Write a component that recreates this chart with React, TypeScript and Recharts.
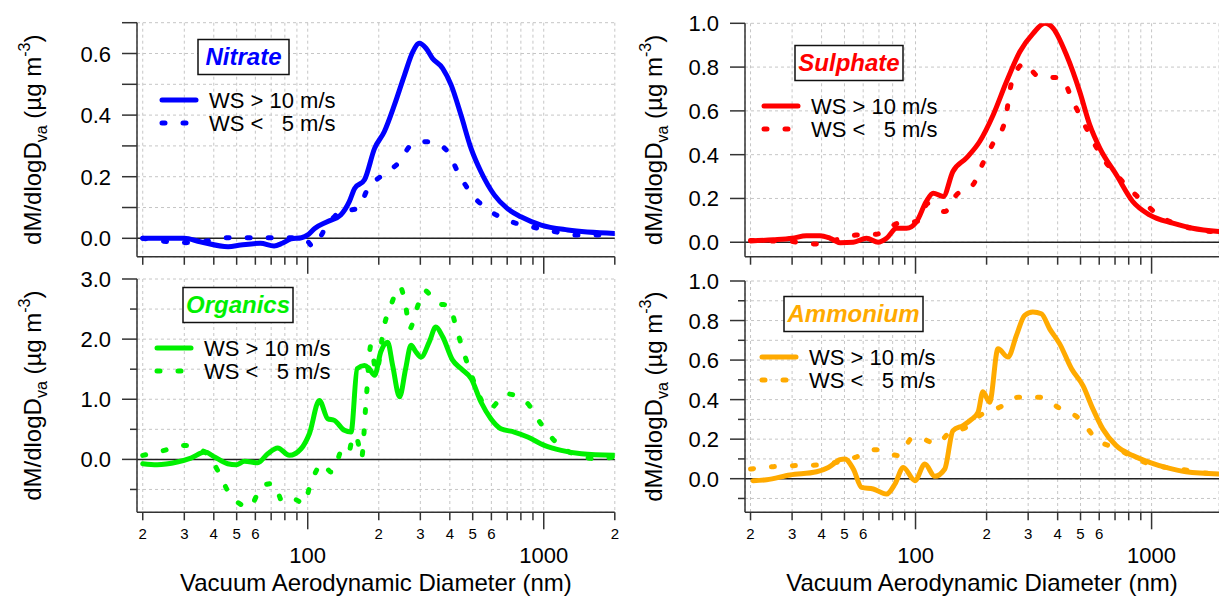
import React from 'react';
import {
  LineChart,
  Line,
  XAxis,
  YAxis,
  CartesianGrid,
  ReferenceLine,
  Legend,
  Label,
} from 'recharts';

// size distributions: vacuum aerodynamic diameter (nm) vs dM/dlogDva (ug m-3)

const nitrateHighD = [20, 30, 35, 46, 52, 63, 72, 78, 85, 94, 100, 107, 121, 138, 150, 158, 174, 192, 211, 233, 257, 279, 297, 317, 338, 373, 405, 446, 492, 542, 617, 700, 800, 975, 1264, 1992];
const nitrateHighV = [0, 0, -0.011, -0.027, -0.022, -0.016, -0.025, -0.016, -0.002, 0.002, 0.011, 0.032, 0.054, 0.076, 0.119, 0.162, 0.19, 0.292, 0.346, 0.433, 0.53, 0.606, 0.633, 0.617, 0.584, 0.552, 0.498, 0.4, 0.292, 0.216, 0.141, 0.097, 0.07, 0.043, 0.027, 0.016];
const nitrateLowD = [20, 25.5, 30.5, 37, 46.5, 57.5, 70, 85, 94, 100, 105, 120, 138, 163, 180, 208, 245, 274, 302, 338, 392, 432, 492, 597, 728, 880, 1110, 1350, 1640, 1992];
const nitrateLowV = [0, -0.011, -0.014, -0.009, 0.002, 0.002, 0.002, 0.002, 0.002, -0.01, -0.027, 0.038, 0.087, 0.097, 0.162, 0.206, 0.249, 0.303, 0.314, 0.312, 0.281, 0.216, 0.146, 0.087, 0.054, 0.038, 0.022, 0.011, 0.011, 0.009];

const sulphateHighD = [20, 25, 30, 34.5, 39.4, 43.5, 48, 54.5, 62, 69.5, 75.4, 83.1, 91.6, 101, 111, 118.8, 131, 144, 164, 187, 213, 243, 277, 315, 353, 383, 436, 496, 547, 604, 710, 832, 980, 1230, 1491, 1929];
const sulphateHighV = [0.006, 0.011, 0.018, 0.03, 0.03, 0.018, -0.002, 0, 0.018, 0, 0.018, 0.064, 0.064, 0.094, 0.186, 0.224, 0.209, 0.323, 0.384, 0.46, 0.58, 0.734, 0.871, 0.954, 1.0, 0.977, 0.855, 0.688, 0.536, 0.429, 0.307, 0.186, 0.125, 0.087, 0.064, 0.049];
const sulphateLowD = [20, 25, 30, 37.5, 46, 56, 68.4, 84.5, 102.6, 113, 133, 149, 175, 193, 213, 239, 256, 290, 325, 353, 414, 465, 512, 622, 754, 918, 1118, 1314, 1596, 1929];
const sulphateLowV = [0.008, 0.006, 0.003, -0.008, 0.011, 0.033, 0.037, 0.087, 0.097, 0.178, 0.14, 0.216, 0.262, 0.361, 0.452, 0.551, 0.734, 0.817, 0.764, 0.756, 0.749, 0.642, 0.551, 0.384, 0.277, 0.186, 0.11, 0.079, 0.056, 0.046];

const organicsHighD = [20, 23, 28, 32, 36.7, 40.3, 45.8, 49.7, 54, 61.4, 67.7, 74.6, 83.6, 93.7, 101.6, 112, 121.5, 129.7, 143, 152.6, 162, 174, 182, 192, 204, 218, 229, 245, 260, 274, 287, 302, 327, 349, 373, 411, 446, 493, 542, 597, 658, 750, 855, 1006, 1186, 1444, 1992];
const organicsHighV = [-0.072, -0.089, -0.044, 0.022, 0.122, 0.039, -0.072, -0.089, -0.033, -0.055, 0.094, 0.189, 0.067, 0.177, 0.427, 0.98, 0.677, 0.649, 0.483, 0.455, 1.51, 1.56, 1.51, 1.4, 1.79, 1.95, 1.56, 1.04, 1.51, 1.9, 1.79, 1.7, 1.95, 2.2, 2.04, 1.65, 1.51, 1.34, 0.954, 0.677, 0.51, 0.455, 0.372, 0.233, 0.15, 0.094, 0.067];
const organicsLowD = [20, 24.7, 30, 36.7, 42.3, 46.6, 56.6, 64.5, 71.8, 78.4, 88.6, 96.2, 103, 115.8, 125.5, 130.6, 138.4, 147.7, 156.6, 163, 169, 176.6, 185.3, 195, 211, 225, 246, 261, 270, 290, 312, 355, 398, 425, 453, 483, 588, 693, 842, 975, 1143, 1390, 1689, 1992];
const organicsLowV = [0.067, 0.15, 0.233, 0.12, -0.24, -0.57, -0.79, -0.43, -0.4, -0.71, -0.67, -0.74, -0.4, -0.07, -0.21, -0.155, 0.122, 0.067, 0.4, 0.3, 0.02, 0.954, 1.9, 1.45, 2.23, 2.56, 2.87, 2.51, 2.17, 2.51, 2.81, 2.59, 2.56, 2.2, 1.84, 1.51, 0.84, 1.09, 0.954, 0.59, 0.26, 0.067, 0.011, 0.039];

const ammoniumHighD = [20.5, 23.4, 29.4, 38.1, 42.7, 47.9, 50.2, 54.5, 59.1, 66.2, 75.4, 81.8, 88.7, 99.4, 109.5, 120.7, 133, 144, 159, 172.6, 184, 193, 206, 223.6, 246.5, 267.6, 290, 314, 341, 370, 408, 458, 512, 564, 621, 708, 832, 980, 1150, 1398, 1929];
const ammoniumHighV = [-0.01, -0.005, 0.019, 0.035, 0.057, 0.096, 0.1, 0.049, -0.044, -0.052, -0.078, -0.027, 0.057, -0.01, 0.074, 0.012, 0.049, 0.243, 0.269, 0.3, 0.336, 0.44, 0.387, 0.657, 0.615, 0.725, 0.826, 0.843, 0.834, 0.758, 0.682, 0.556, 0.471, 0.353, 0.252, 0.167, 0.117, 0.083, 0.057, 0.035, 0.024];
const ammoniumLowD = [20, 25, 30.4, 38.1, 45, 55.5, 68.4, 84.5, 97.8, 107.7, 122.7, 139.7, 164, 187, 227, 272, 336, 408, 496, 583, 721, 862, 1047, 1313, 1596, 1929];
const ammoniumLowV = [0.049, 0.061, 0.066, 0.069, 0.08, 0.108, 0.147, 0.117, 0.209, 0.201, 0.176, 0.235, 0.26, 0.319, 0.361, 0.412, 0.412, 0.356, 0.302, 0.201, 0.15, 0.1, 0.066, 0.049, 0.032, 0.024];

const xTicksLeft = [20, 30, 40, 50, 60, 70, 80, 90, 100, 200, 300, 400, 500, 600, 700, 800, 900, 1000, 2000];
const xTicksRight = [20, 30, 40, 50, 60, 70, 80, 90, 100, 200, 300, 400, 500, 600, 700, 800, 900, 1000];

const nitrateYTicks = [0, 0.1, 0.2, 0.3, 0.4, 0.5, 0.6, 0.7];
const nitrateYLabels = [0, 0.2, 0.4, 0.6];
const sulphateYTicks = [0, 0.2, 0.4, 0.6, 0.8, 1.0];
const sulphateYLabels = [0, 0.2, 0.4, 0.6, 0.8, 1.0];
const organicsYTicks = [-0.5, 0, 0.5, 1, 1.5, 2, 2.5, 3];
const organicsYLabels = [0, 1, 2, 3];
const ammoniumYTicks = [-0.1, 0, 0.1, 0.2, 0.3, 0.4, 0.5, 0.6, 0.7, 0.8, 0.9, 1.0];
const ammoniumYLabels = [0, 0.2, 0.4, 0.6, 0.8, 1.0];

const seriesNames = ['WS > 10 m/s', 'WS <   5 m/s'];
const xTitle = 'Vacuum Aerodynamic Diameter (nm)';

const FONT = '"Liberation Sans", Arial, Helvetica, sans-serif';
const AXIS = '#333';
const DASH = '3 18';

const toPoints = (d: number[], v: number[]) => d.map((x, i) => ({ d: x, v: v[i] }));

type Pt = { d: number; v: number };
type PanelCfg = {
  name: string;
  color: string;
  high: Pt[];
  low: Pt[];
  yDomain: [number, number];
  yTicks: number[];
  yLabels: number[];
  minorLen: number;
  xDomain: [number, number];
  xTicks: number[];
  left: number;
  top: number;
  width: number;
  height: number;
  axisX: number;
  plotTop: number;
  plotBottom: number;
  plotRight: number;
  titleOffset: number;
  legendX: number;
  legendY: number;
  boxDx: number;
  boxW: number;
  bottomRow: boolean;
};

const panels: PanelCfg[] = [
  {
    name: 'Nitrate', color: '#0000ff',
    high: toPoints(nitrateHighD, nitrateHighV), low: toPoints(nitrateLowD, nitrateLowV),
    yDomain: [-0.06, 0.7], yTicks: nitrateYTicks, yLabels: nitrateYLabels, minorLen: 15,
    xDomain: [18.91, 2000], xTicks: xTicksLeft,
    left: 0, top: 0, width: 620, height: 280,
    axisX: 137, plotTop: 22.7, plotBottom: 256.8, plotRight: 614.8, titleOffset: 96,
    legendX: 160, legendY: 39, boxDx: 38, boxW: 91, bottomRow: false,
  },
  {
    name: 'Sulphate', color: '#ff0000',
    high: toPoints(sulphateHighD, sulphateHighV), low: toPoints(sulphateLowD, sulphateLowV),
    yDomain: [-0.066, 1.0], yTicks: sulphateYTicks, yLabels: sulphateYLabels, minorLen: 15,
    xDomain: [18.95, 1930], xTicks: xTicksRight,
    left: 610, top: 0, width: 609, height: 280,
    axisX: 745, plotTop: 23.3, plotBottom: 256.7, plotRight: 1219, titleOffset: 83,
    legendX: 762, legendY: 45, boxDx: 33, boxW: 108, bottomRow: false,
  },
  {
    name: 'Organics', color: '#00f000',
    high: toPoints(organicsHighD, organicsHighV), low: toPoints(organicsLowD, organicsLowV),
    yDomain: [-0.88, 3.0], yTicks: organicsYTicks, yLabels: organicsYLabels, minorLen: 7,
    xDomain: [18.91, 2000], xTicks: xTicksLeft,
    left: 0, top: 265, width: 620, height: 332,
    axisX: 137, plotTop: 279, plotBottom: 512.3, plotRight: 614.8, titleOffset: 96,
    legendX: 155, legendY: 287, boxDx: 28, boxW: 110, bottomRow: true,
  },
  {
    name: 'Ammonium', color: '#ffaa00',
    high: toPoints(ammoniumHighD, ammoniumHighV), low: toPoints(ammoniumLowD, ammoniumLowV),
    yDomain: [-0.17, 1.0], yTicks: ammoniumYTicks, yLabels: ammoniumYLabels, minorLen: 7,
    xDomain: [18.95, 1930], xTicks: xTicksRight,
    left: 610, top: 265, width: 609, height: 332,
    axisX: 745, plotTop: 281, plotBottom: 512.3, plotRight: 1219, titleOffset: 83,
    legendX: 760, legendY: 296, boxDx: 24, boxW: 139, bottomRow: true,
  },
];

const XTick = (props: any) => {
  const { x, y, payload, labels } = props;
  const v = payload.value as number;
  const exp = Math.floor(Math.log10(v) + 1e-9);
  const m = Math.round(v / Math.pow(10, exp));
  const major = m === 1;
  return (
    <g>
      <line x1={x} y1={y} x2={x} y2={y + (major ? 17 : 8)} stroke={AXIS} strokeWidth={1.5} />
      {labels && major && (
        <text x={x} y={y + 51} textAnchor="middle" fontSize={22} fontFamily={FONT} fill="#000">{v}</text>
      )}
      {labels && m >= 2 && m <= 6 && (
        <text x={x} y={y + 27} textAnchor="middle" fontSize={15} fontFamily={FONT} fill="#000">{m}</text>
      )}
    </g>
  );
};

const YTick = (props: any) => {
  const { x, y, payload, majors, minorLen } = props;
  const v = payload.value as number;
  const major = (majors as number[]).some((m) => Math.abs(m - v) < 1e-6);
  return (
    <g>
      <line x1={x - (major ? 15 : minorLen)} y1={y} x2={x} y2={y} stroke={AXIS} strokeWidth={1.5} />
      {major && (
        <text x={x - 26} y={y + 8} textAnchor="end" fontSize={22} fontFamily={FONT} fill="#000">{v.toFixed(1)}</text>
      )}
    </g>
  );
};

const LegendBox = ({ payload, p }: any) => {
  const items = (payload || []) as any[];
  const colorOf = (name: string) => {
    const hit = items.find((it) => it.value === name);
    return (hit && hit.color) || p.color;
  };
  return (
    <svg width={220} height={100} style={{ display: 'block', overflow: 'visible' }}>
      <rect x={p.boxDx} y={0.5} width={p.boxW} height={35} fill="#fff" stroke="#111" strokeWidth={1.5} />
      <text x={p.boxDx + p.boxW / 2} y={26} textAnchor="middle" fontSize={24} fontWeight="bold" fontStyle="italic" fontFamily={FONT} fill={p.color}>
        {p.name}
      </text>
      {seriesNames.map((name, i) => {
        const ly = 61 + 23 * i;
        return (
          <g key={name}>
            <line x1={2} y1={ly} x2={36} y2={ly} stroke={colorOf(name)} strokeWidth={5} strokeDasharray={i === 1 ? DASH : undefined} strokeLinecap="round" />
            <text x={49} y={ly + 8} fontSize={22} fontFamily={FONT} fill="#000" xmlSpace="preserve" style={{ whiteSpace: 'pre' }}>
              {name}
            </text>
          </g>
        );
      })}
    </svg>
  );
};

const Panel = ({ p }: { p: PanelCfg }) => {
  const margin = { top: p.plotTop - p.top, right: p.left + p.width - p.plotRight, bottom: 0, left: 0 };
  const yAxisW = p.axisX - p.left;
  const xAxisH = p.top + p.height - p.plotBottom;
  const titleX = yAxisW - p.titleOffset;
  const titleY = (p.plotTop + p.plotBottom) / 2 - p.top;
  const xTitleX = (p.axisX + p.plotRight) / 2 - p.left;
  const xTitleY = p.plotBottom - p.top + 79;

  return (
    <div style={{ position: 'absolute', left: p.left, top: p.top }}>
      <LineChart width={p.width} height={p.height} margin={margin}>
        <CartesianGrid stroke="#c6c6c6" strokeDasharray="3 3" />
        <XAxis
          type="number"
          dataKey="d"
          scale="log"
          domain={p.xDomain}
          allowDataOverflow
          ticks={p.xTicks}
          interval={0}
          tickLine={false}
          tickSize={0}
          tickMargin={0}
          height={xAxisH}
          axisLine={{ stroke: AXIS, strokeWidth: 1.5 }}
          tick={(t: any) => <XTick {...t} labels={p.bottomRow} />}
        >
          {p.bottomRow && (
            <Label
              content={() => (
                <text x={xTitleX} y={xTitleY} textAnchor="middle" fontSize={24} fontFamily={FONT} fill="#000">
                  {xTitle}
                </text>
              )}
            />
          )}
        </XAxis>
        <YAxis
          type="number"
          domain={p.yDomain}
          allowDataOverflow
          ticks={p.yTicks}
          interval={0}
          tickLine={false}
          tickSize={0}
          tickMargin={0}
          width={yAxisW}
          axisLine={{ stroke: AXIS, strokeWidth: 1.5 }}
          tick={(t: any) => <YTick {...t} majors={p.yLabels} minorLen={p.minorLen} />}
        >
          <Label
            content={() => (
              <text
                x={titleX}
                y={titleY}
                transform={`rotate(-90 ${titleX} ${titleY})`}
                textAnchor="middle"
                fontSize={24}
                fontFamily={FONT}
                fill="#000"
                style={{ whiteSpace: 'pre' }}
              >
                dM/dlogD
                <tspan fontSize={16} dy={6}>va</tspan>
                <tspan dy={-6}> (µg m</tspan>
                <tspan fontSize={16} dy={-11}>-3</tspan>
                <tspan dy={11}>)</tspan>
              </text>
            )}
          />
        </YAxis>
        <ReferenceLine y={0} stroke="#222" strokeWidth={1.5} />
        <Line
          data={p.high}
          dataKey="v"
          name={seriesNames[0]}
          type="monotone"
          stroke={p.color}
          strokeWidth={5}
          strokeLinejoin="round"
          strokeLinecap="round"
          dot={false}
          activeDot={false}
          isAnimationActive={false}
        />
        <Line
          data={p.low}
          dataKey="v"
          name={seriesNames[1]}
          type="monotone"
          stroke={p.color}
          strokeWidth={5}
          strokeDasharray={DASH}
          strokeLinecap="round"
          dot={false}
          activeDot={false}
          isAnimationActive={false}
        />
        <Legend
          layout="vertical"
          align="center"
          verticalAlign="middle"
          wrapperStyle={{ left: p.legendX - p.left, top: p.legendY - p.top, width: 220, height: 100 }}
          content={(lp: any) => <LegendBox {...lp} p={p} />}
        />
      </LineChart>
    </div>
  );
};

const App = () => (
  <div style={{ position: 'absolute', left: 0, top: 0, width: 1219, height: 597, background: '#fff', fontFamily: FONT }}>
    {panels.map((p) => (
      <Panel key={p.name} p={p} />
    ))}
  </div>
);

export default App;
